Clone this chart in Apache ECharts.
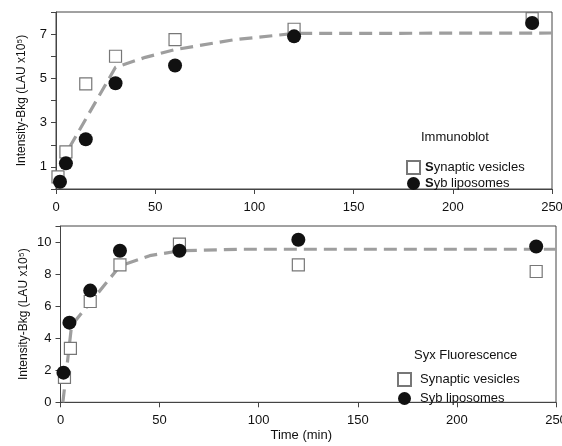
<!DOCTYPE html>
<html><head><meta charset="utf-8">
<script src="https://cdn.jsdelivr.net/npm/echarts@6/dist/echarts.min.js"></script>
<style>html,body{margin:0;padding:0;background:#fff}#c{width:562px;height:446px}</style>
</head><body><div id="c"></div>
<script>
// ---- data ----
const xTicks = [0, 50, 100, 150, 200, 250];
const topYLabels = [1, 3, 5, 7];
const timeTopSV = [1, 5, 15, 30, 60, 120, 240];
const timeTopSyb = [2, 5, 15, 30, 60, 120, 240];
const topSV = [0.55, 1.68, 4.75, 6.0, 6.75, 7.22, 7.7];
const topSyb = [0.33, 1.16, 2.25, 4.78, 5.58, 6.9, 7.5];
const topFitX = [1, 5, 30, 45, 60, 90, 120, 250];
const topFitY = [0.15, 1.6, 5.5, 5.95, 6.3, 6.75, 7.03, 7.05];

const timeBotSV = [2, 5, 15, 30, 60, 120, 240];
const timeBotSyb = [1.5, 4.5, 15, 30, 60, 120, 240];
const botSV = [1.56, 3.37, 6.29, 8.58, 9.87, 8.58, 8.16];
const botSyb = [1.85, 4.97, 6.97, 9.46, 9.46, 10.14, 9.72];
const botFitX = [1.2, 5.6, 30, 45, 60, 90, 250];
const botFitY = [0, 4.8, 8.5, 9.15, 9.45, 9.55, 9.55];

const zip = (a, b) => a.map((v, i) => [v, b[i]]);
const FONT = 'Liberation Sans, Arial, sans-serif';
const AX = '#444';

function xAxisCfg(grid, name) {
  return {
    type: 'value', gridIndex: grid, min: 0, max: 250, interval: 50,
    axisLine: { show: true, lineStyle: { color: AX, width: 1 } },
    axisTick: { show: true, length: 5, lineStyle: { color: AX } },
    axisLabel: { color: '#111', fontSize: 13, fontFamily: FONT, margin: 12 },
    splitLine: { show: false },
    name: name || '', nameLocation: 'middle', nameGap: 27, nameMoveOverlap: false,
    nameTextStyle: { color: '#111', fontSize: 13, fontFamily: FONT, padding: [0, 14, 0, 0] }
  };
}
const yName = 'Intensity-Bkg (LAU x10\u2075)';

const svStyle = { color: '#fff', borderColor: '#777', borderWidth: 1.2, opacity: 1 };
const sybStyle = { color: '#111', opacity: 1 };
const fitStyle = { color: '#9e9e9e', width: 3.2, type: [13, 7] };

const chart = echarts.init(document.getElementById('c'), null, { renderer: 'canvas' });
chart.setOption({
  animation: false,
  backgroundColor: '#fff',
  grid: [
    { left: 56, top: 12, width: 496, height: 177, show: true, borderColor: AX, borderWidth: 1, outerBoundsMode: 'none', containLabel: false },
    { left: 60.5, top: 226, width: 495.5, height: 176.3, show: true, borderColor: AX, borderWidth: 1, outerBoundsMode: 'none', containLabel: false }
  ],
  xAxis: [xAxisCfg(0), xAxisCfg(1, 'Time (min)')],
  yAxis: [
    {
      type: 'value', gridIndex: 0, min: 0, max: 8, interval: 1,
      axisLine: { show: true, lineStyle: { color: AX } },
      axisTick: { show: true, length: 5, lineStyle: { color: AX } },
      axisLabel: { color: '#111', fontSize: 13, fontFamily: FONT, margin: 9, customValues: topYLabels },
      splitLine: { show: false },
      name: yName, nameLocation: 'middle', nameGap: 28, nameMoveOverlap: false,
      nameTextStyle: { color: '#111', fontSize: 12, fontFamily: FONT }
    },
    {
      type: 'value', gridIndex: 1, min: 0, max: 11, interval: 2,
      axisLine: { show: true, lineStyle: { color: AX } },
      axisTick: { show: true, length: 5, lineStyle: { color: AX } },
      axisLabel: { color: '#111', fontSize: 13, fontFamily: FONT, margin: 9,
        formatter: v => (v > 10 ? '' : v) },
      splitLine: { show: false },
      name: yName, nameLocation: 'middle', nameGap: 31, nameMoveOverlap: false,
      nameTextStyle: { color: '#111', fontSize: 12, fontFamily: FONT }
    }
  ],
  title: [
    { text: 'Immunoblot', left: 416, top: 126, textStyle: { fontSize: 13, fontWeight: 'normal', color: '#111', fontFamily: FONT } },
    { text: 'Syx Fluorescence', left: 409, top: 344, textStyle: { fontSize: 13, fontWeight: 'normal', color: '#111', fontFamily: FONT } }
  ],
  legend: [
    {
      orient: 'vertical', left: 401, top: 155, itemWidth: 13, itemHeight: 13, itemGap: 2,
      data: ['Synaptic vesicles', 'Syb liposomes'],
      formatter: n => '{b|S}{n|' + n.slice(1) + '}',
      textStyle: { color: '#111', fontSize: 13, fontFamily: FONT,
        rich: { b: { fontWeight: 'bold', fontSize: 13, fontFamily: FONT, color: '#111' }, n: { fontSize: 13, fontFamily: FONT, color: '#111' } } },
      selectedMode: false
    },
    {
      orient: 'vertical', left: 392, top: 367, itemWidth: 13, itemHeight: 13, itemGap: 5,
      data: ['Synaptic vesicles', 'Syb liposomes'],
      textStyle: { color: '#111', fontSize: 13, fontFamily: FONT, padding: [0, 0, 0, 4] },
      selectedMode: false
    }
  ],
  series: [
    { type: 'line', name: 'fitTop', xAxisIndex: 0, yAxisIndex: 0, data: zip(topFitX, topFitY),
      showSymbol: false, lineStyle: fitStyle, z: 1 },
    { type: 'scatter', name: 'Synaptic vesicles', xAxisIndex: 0, yAxisIndex: 0, data: zip(timeTopSV, topSV),
      symbol: 'rect', symbolSize: 12, itemStyle: svStyle, z: 2 },
    { type: 'scatter', name: 'Syb liposomes', xAxisIndex: 0, yAxisIndex: 0, data: zip(timeTopSyb, topSyb),
      symbol: 'circle', symbolSize: 14, itemStyle: sybStyle, z: 3 },
    { type: 'line', name: 'fitBot', xAxisIndex: 1, yAxisIndex: 1, data: zip(botFitX, botFitY),
      showSymbol: false, lineStyle: fitStyle, z: 1 },
    { type: 'scatter', name: 'Synaptic vesicles', xAxisIndex: 1, yAxisIndex: 1, data: zip(timeBotSV, botSV),
      symbol: 'rect', symbolSize: 12, itemStyle: svStyle, z: 2 },
    { type: 'scatter', name: 'Syb liposomes', xAxisIndex: 1, yAxisIndex: 1, data: zip(timeBotSyb, botSyb),
      symbol: 'circle', symbolSize: 14, itemStyle: sybStyle, z: 3 }
  ]
});
</script>
</body></html>
